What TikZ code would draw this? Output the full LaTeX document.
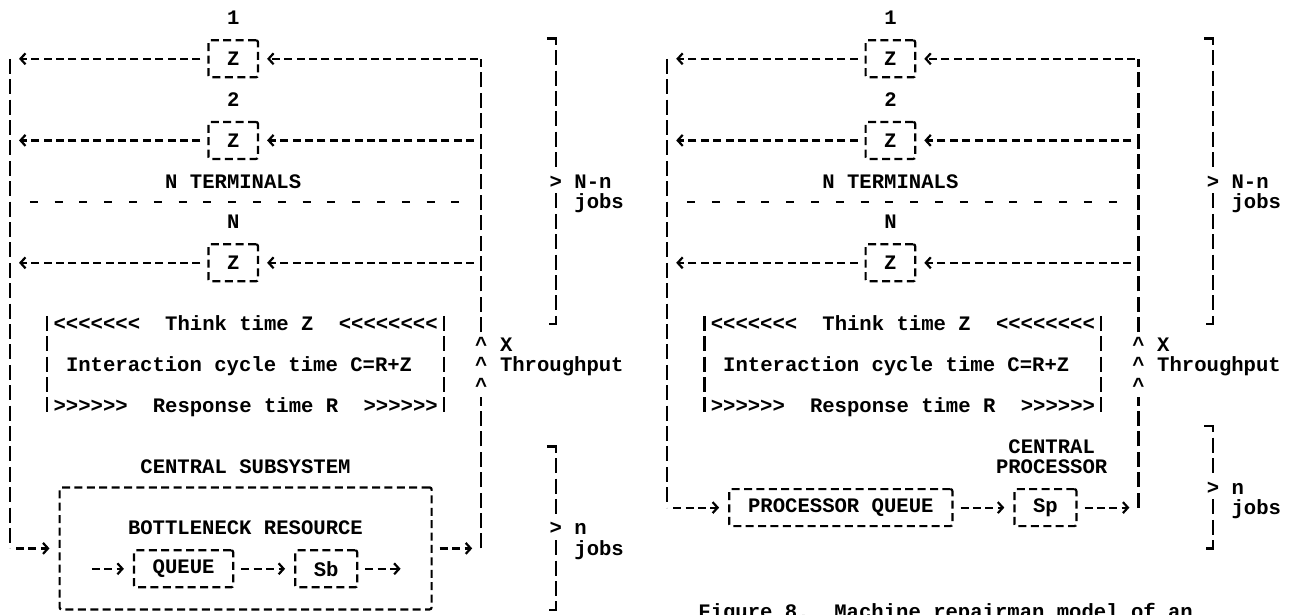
\documentclass[tikz,border=0pt]{standalone}
\usepackage{fontspec}
\usetikzlibrary{arrows.meta}
\newfontfamily\typer{Liberation Mono}
\newcommand\tty{\typer\bfseries\fontsize{20.6}{24}\selectfont}
\tikzset{
  chars/.style={anchor=base west, inner sep=0pt, yshift=-6.8pt, font=\tty},
  hl/.style={line width=2.2pt, dash pattern=on 8pt off 4.4pt},
  vl/.style={line width=2.2pt, dash pattern=on 15pt off 5.4pt},
  gaps/.style={line width=2.2pt, dash pattern=on 8pt off 16.8pt},
  cell/.style={draw, line width=2.2pt, dash pattern=on 8pt off 4.4pt, rounded corners=2pt,
               inner sep=0pt, minimum height=37pt, font=\tty},
  tip/.style={-{Straight Barb[length=5pt, width=11pt, line width=2.2pt]}},
}

\begin{document}
\begin{tikzpicture}[x=12.4pt, y=-20.4pt]
  \useasboundingbox (-10pt,18pt) rectangle (1293pt,-596pt);

  % terminals, think/response box and the loop, same in both panels
  \foreach \side/\dx/\bot in {L/0/26, R/53/24}{
  \begin{scope}[xshift=\dx*12.4pt]
    \node[chars] (\side n1) at (17.5,0) {1};
    \node[cell, minimum width=49.6pt] (\side z1) at (18,2) {Z};
    \node[chars] (\side n2) at (17.5,4) {2};
    \node[cell, minimum width=49.6pt] (\side z2) at (18,6) {Z};
    \node[chars] (\side term) at (12.5,8) {N TERMINALS};
    \node[chars] (\side nn) at (17.5,10) {N};
    \node[cell, minimum width=49.6pt] (\side zn) at (18,12) {Z};

    \coordinate (\side tl) at (0,2);
    \coordinate (\side tr) at (38,2);
    \coordinate (\side bl) at (0,\bot);
    \coordinate (\side br) at (38,\bot);
    \coordinate (\side ca) at (38,18.6);
    \coordinate (\side cb) at (38,15.4);
    \coordinate (\side sa) at (1.6,9);
    \coordinate (\side sb) at (36.6,9);

    \draw[vl] (\side tl) -- (\side bl);
    \draw[vl] (\side br) -- (\side ca);
    \draw[vl] (\side cb) -- (\side tr);
    \draw[hl, tip, shorten <=3pt, shorten >=8pt] (\side tr) -- (\side z1);
    \draw[hl, tip, shorten <=7pt, shorten >=8pt] (\side tr |- \side z2) -- (\side z2);
    \draw[hl, tip, shorten <=7pt, shorten >=8pt] (\side tr |- \side zn) -- (\side zn);
    \draw[hl, tip, shorten <=7pt, shorten >=9pt] (\side z1) -- (\side tl);
    \draw[hl, tip, shorten <=7pt, shorten >=9pt] (\side z2) -- (\side tl |- \side z2);
    \draw[hl, tip, shorten <=7pt, shorten >=9pt] (\side zn) -- (\side tl |- \side zn);
    \draw[gaps] (\side sa) -- (\side sb);

    % think time / response time
    \draw[vl] (3,14.6) -- (3,19.5);
    \draw[vl] (35,14.6) -- (35,19.5);
    \node[chars] (\side ta) at (3.5,15) {<<<<<<<};
    \node[chars] (\side tt) at (12.5,15) {Think time Z};
    \node[chars] (\side tb) at (26.5,15) {<<<<<<<<};
    \node[chars] (\side ct) at (4.5,17) {Interaction cycle time C=R+Z};
    \node[chars] (\side ra) at (3.5,19) {>>>>>>};
    \node[chars] (\side rt) at (11.5,19) {Response time R};
    \node[chars] (\side rb) at (28.5,19) {>>>>>>};

    \foreach \r in {16,17,18}
      \node[chars] (\side up\r) at (37.5,\r) {\textasciicircum};
    \node[chars] (\side x) at (39.5,16) {X};
    \node[chars] (\side thr) at (39.5,17) {Throughput};

    % N-n jobs
    \draw[vl] (43.3,1) -| (44,7.4);
    \draw[vl] (44,8.6) |- (43.3,15);
    \node[chars] (\side gt) at (43.5,8) {>};
    \node[chars] (\side nmn) at (45.5,8) {N-n};
    \node[chars] (\side jb) at (45.5,9) {jobs};
  \end{scope}
  }

  % left: central subsystem
  \node[cell, minimum width=372pt, minimum height=122pt] (Lcs) at (19,26) {};
  \node[chars] (Lcst) at (10.5,22) {CENTRAL SUBSYSTEM};
  \node[chars] (Lbot) at (9.5,25) {BOTTLENECK RESOURCE};
  \node[cell, minimum width=99.2pt] (Lq) at (14,27) {QUEUE};
  \node[cell, minimum width=62pt] (Lsb) at (25.5,27) {Sb};
  \coordinate (Lin) at (6.6,27);
  \coordinate (Lout) at (31.5,27);
  \draw[hl, tip, shorten >=9pt] (Lin) -- (Lq);
  \draw[hl, tip, shorten <=7pt, shorten >=9pt] (Lq) -- (Lsb);
  \draw[hl, tip, shorten <=7pt] (Lsb) -- (Lout);
  \draw[hl, tip, shorten <=6pt, shorten >=9pt] (Lbl) -- (Lcs);
  \draw[hl, tip, shorten <=7pt, shorten >=9pt] (Lcs) -- (Lbr);

  \draw[vl] (43.3,21) -| (44,24.4);
  \draw[vl] (44,25.6) |- (43.3,29);
  \node[chars] (Lgt) at (43.5,25) {>};
  \node[chars] (Ln) at (45.5,25) {n};
  \node[chars] (Ljb) at (45.5,26) {jobs};

  % right: central processor
  \begin{scope}[xshift=53*12.4pt]
    \node[chars] (Rcp) at (27.5,21) {CENTRAL};
    \node[chars] (Rpr) at (26.5,22) {PROCESSOR};
    \node[cell, minimum width=223.2pt] (Rq) at (14,24) {PROCESSOR QUEUE};
    \node[cell, minimum width=62pt] (Rsp) at (30.5,24) {Sp};
    \draw[hl, tip, shorten <=6pt, shorten >=9pt] (Rbl) -- (Rq);
    \draw[hl, tip, shorten <=7pt, shorten >=9pt] (Rq) -- (Rsp);
    \draw[hl, tip, shorten <=7pt, shorten >=9pt] (Rsp) -- (Rbr);

    \draw[vl] (43.3,20) -| (44,22.4);
    \draw[vl] (44,23.6) |- (43.3,26);
    \node[chars] (Rgt) at (43.5,23) {>};
    \node[chars] (Rn) at (45.5,23) {n};
    \node[chars] (Rjb) at (45.5,24) {jobs};

    \node[chars] (cap) at (2.5,29.1) {Figure 8.~~Machine repairman model of an};
  \end{scope}
\end{tikzpicture}
\end{document}
